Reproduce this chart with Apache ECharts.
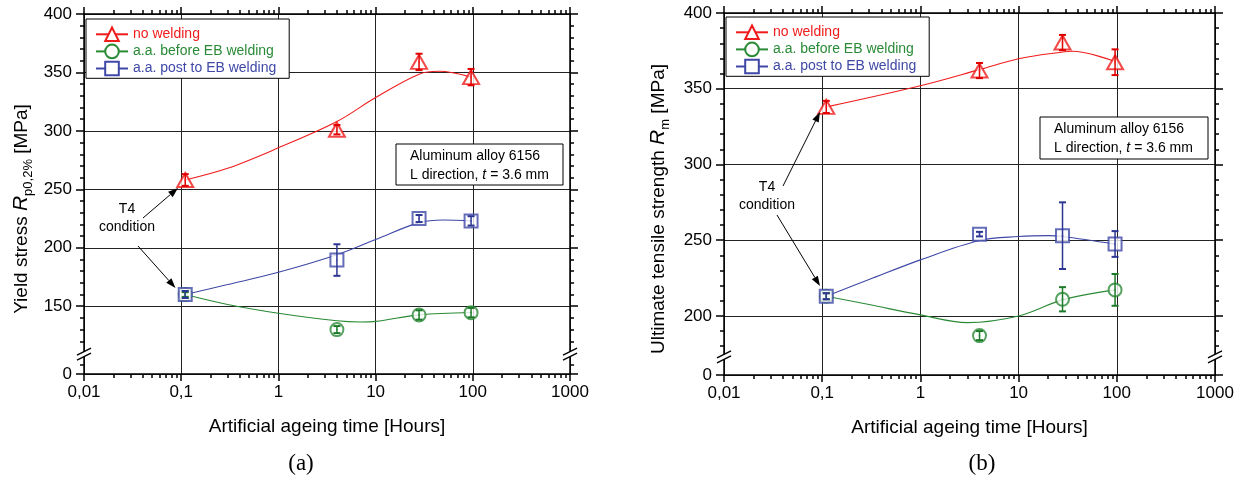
<!DOCTYPE html>
<html><head><meta charset="utf-8">
<script src="https://cdn.jsdelivr.net/npm/echarts@6/dist/echarts.min.js"></script>
<style>html,body{margin:0;padding:0;background:#fff}#c{width:1252px;height:482px}</style>
</head><body><div id="c"></div>
<script>
// ---------- data ----------
const hours = [0.11, 4, 28, 96];
const seriesNames = ['no welding', 'a.a. before EB welding', 'a.a. post to EB welding'];

// panel (a): yield stress Rp0.2 [MPa]
const yieldNoWeld = [258, 301, 359, 346];
const yieldNoWeldErr = [5, 4, 7, 7];
const yieldBefore = [160, 130, 142.5, 144.5];
const yieldBeforeErr = [2, 3, 4, 4];
const yieldPost = [160, 189.5, 225, 223];
const yieldPostErr = [3, 13.5, 3, 4];
// fitted curves of panel (a)
const fitYieldNoWeldX = [0.11, 0.3, 1, 4, 10, 28, 45, 96];
const fitYieldNoWeldY = [258, 268, 285.5, 308, 328.5, 348.5, 351, 346];
const fitYieldBeforeX = [0.11, 0.3, 1, 4, 7, 10, 28, 96];
const fitYieldBeforeY = [160, 151.5, 144, 137.5, 136.5, 137, 142.6, 144.6];
const fitYieldPostX = [0.11, 0.3, 1, 4, 10, 28, 50, 96];
const fitYieldPostY = [160, 168.5, 179, 194, 207, 221.5, 223.8, 223];

// panel (b): ultimate tensile strength Rm [MPa]
const utsNoWeld = [338, 362, 380.5, 367.5];
const utsNoWeldErr = [4, 5, 5, 8.5];
const utsBefore = [213, 187, 211, 217.2];
const utsBeforeErr = [2, 3, 8, 10.5];
const utsPost = [213, 254, 253, 247.5];
const utsPostErr = [2, 1.5, 22, 8.5];
const fitUtsNoWeldX = [0.11, 1, 4, 10, 28, 35, 96];
const fitUtsNoWeldY = [338, 352, 362.6, 369.8, 374.2, 374.7, 368];
const fitUtsBeforeX = [0.11, 0.3, 1, 3, 10, 28, 96];
const fitUtsBeforeY = [213, 207.5, 200.7, 195.6, 200, 210.6, 217.2];
const fitUtsPostX = [0.11, 0.3, 1, 4, 10, 20, 28, 96];
const fitUtsPostY = [213, 224, 237, 249.8, 252.4, 253, 252.4, 247.4];

// axes
const xTickVals = [0.01, 0.1, 1, 10, 100, 1000];
const xTickLabels = ['0,01', '0,1', '1', '10', '100', '1000'];
const yTickValsA = [92, 150, 200, 250, 300, 350, 400];   // 92 = broken-axis position of "0"
const yTickLabelsA = ['0', '150', '200', '250', '300', '350', '400'];
const yMinorA = [100, 120, 130, 140, 160, 170, 180, 190, 210, 220, 230, 240, 260, 270, 280, 290, 310, 320, 330, 340, 360, 370, 380, 390];
const breakA = 109;
const yTickValsB = [161, 200, 250, 300, 350, 400];       // 161 = broken-axis position of "0"
const yTickLabelsB = ['0', '200', '250', '300', '350', '400'];
const yMinorB = [180, 190, 210, 220, 230, 240, 260, 270, 280, 290, 310, 320, 330, 340, 360, 370, 380, 390];
const breakB = 173;

// ---------- style ----------
const FONT = '"Liberation Sans", Arial, Helvetica, sans-serif';
const colors = ['#f01c1c', '#2a8a36', '#3f48a6'];
const errColors = ['#e00000', '#1d7a29', '#2c3592'];
const symbols = ['emptyTriangle', 'emptyCircle', 'emptyRect'];
const symbolSizes = [[16, 14], 13, 13];

// minor x ticks (2..9 of each decade)
const xMinor = [];
for (let d = -2; d < 3; d++) for (let m = 2; m <= 9; m++) xMinor.push(+(m * Math.pow(10, d)).toPrecision(3));

const black = {color: '#000', width: 1.5};

function xAxes(gi) {
  return [
    {gridIndex: gi, type: 'log', logBase: 10, min: 0.01, max: 1000, position: 'bottom',
      axisLine: {onZero: false, lineStyle: black},
      axisTick: {customValues: xTickVals, length: 7, lineStyle: black},
      axisLabel: {customValues: xTickVals, fontSize: 17, fontFamily: FONT, color: '#000', margin: 10,
        formatter: v => { let i = xTickVals.findIndex(t => Math.abs(Math.log10(t) - Math.log10(v)) < 1e-6); return i < 0 ? '' : xTickLabels[i]; }},
      splitLine: {show: true, lineStyle: {color: '#222', width: 1}},
      name: 'Artificial ageing time [Hours]', nameLocation: 'middle', nameGap: 43,
      nameTextStyle: {fontSize: 19, fontFamily: FONT, color: '#000'}},
    {gridIndex: gi, type: 'log', logBase: 10, min: 0.01, max: 1000, position: 'bottom',
      axisLine: {show: false, onZero: false}, axisTick: {customValues: xMinor, length: 4, lineStyle: black},
      axisLabel: {show: false}, splitLine: {show: false}},
    {gridIndex: gi, type: 'log', logBase: 10, min: 0.01, max: 1000, position: 'top',
      axisLine: {show: true, onZero: false, lineStyle: black}, axisTick: {customValues: xTickVals, length: 7, lineStyle: black},
      axisLabel: {show: false}, splitLine: {show: false}},
    {gridIndex: gi, type: 'log', logBase: 10, min: 0.01, max: 1000, position: 'top',
      axisLine: {show: false, onZero: false}, axisTick: {customValues: xMinor, length: 4, lineStyle: black},
      axisLabel: {show: false}, splitLine: {show: false}}
  ];
}

function yAxes(gi, min, vals, labels, minor, name, nameGap) {
  const base = {gridIndex: gi, type: 'value', min: min, max: 400};
  return [
    Object.assign({}, base, {position: 'left',
      axisLine: {show: true, onZero: false, lineStyle: black},
      axisTick: {customValues: vals, length: 8, lineStyle: black},
      axisLabel: {customValues: vals, fontSize: 17, fontFamily: FONT, color: '#000', margin: 12,
        formatter: v => { let i = vals.findIndex(t => Math.abs(t - v) < 1e-6); return i < 0 ? '' : labels[i]; }},
      splitLine: {show: true, lineStyle: {color: '#222', width: 1}},
      name: name, nameLocation: 'middle', nameGap: nameGap,
      nameTextStyle: {fontSize: 19, fontFamily: FONT, color: '#000', padding: [0, 30, 0, 0],
        rich: {
          n: {fontSize: 19, fontFamily: FONT, color: '#000'},
          i: {fontSize: 21, fontFamily: FONT, fontStyle: 'italic', color: '#000'},
          s: {fontSize: 13, fontFamily: FONT, color: '#000', verticalAlign: 'bottom', padding: [0, 0, -3, 0]}
        }}}),
    Object.assign({}, base, {position: 'left', axisLine: {show: false, onZero: false},
      axisTick: {customValues: minor, length: 4, lineStyle: black}, axisLabel: {show: false}, splitLine: {show: false}}),
    Object.assign({}, base, {position: 'right', axisLine: {show: true, onZero: false, lineStyle: black},
      axisTick: {customValues: vals, length: 8, lineStyle: black}, axisLabel: {show: false}, splitLine: {show: false}}),
    Object.assign({}, base, {position: 'right', axisLine: {show: false, onZero: false},
      axisTick: {customValues: minor, length: 4, lineStyle: black}, axisLabel: {show: false}, splitLine: {show: false}})
  ];
}

function errRender(params, api) {
  const x = api.value(0), y = api.value(1), e = api.value(2);
  const c = api.visual('color');
  const t = api.coord([x, y + e]), b = api.coord([x, y - e]);
  const w = 3.5;
  return {type: 'group', children: [
    {type: 'line', shape: {x1: t[0], y1: t[1], x2: b[0], y2: b[1]}, style: {stroke: c, lineWidth: 1.5}},
    {type: 'line', shape: {x1: t[0] - w, y1: t[1], x2: t[0] + w, y2: t[1]}, style: {stroke: c, lineWidth: 2}},
    {type: 'line', shape: {x1: b[0] - w, y1: b[1], x2: b[0] + w, y2: b[1]}, style: {stroke: c, lineWidth: 2}}
  ]};
}

function breakRender(params, api) {
  const cs = params.coordSys;
  const y = api.coord([1, api.value(1)])[1];
  const kids = [];
  [cs.x, cs.x + cs.width].forEach(x0 => {
    kids.push({type: 'polygon', shape: {points: [[x0 - 7, y + 1], [x0 + 7, y - 6], [x0 + 7, y - 1], [x0 - 7, y + 6]]}, style: {fill: '#fff'}});
    kids.push({type: 'line', shape: {x1: x0 - 7, y1: y + 1, x2: x0 + 7, y2: y - 6}, style: {stroke: '#000', lineWidth: 1.5}});
    kids.push({type: 'line', shape: {x1: x0 - 7, y1: y + 6, x2: x0 + 7, y2: y - 1}, style: {stroke: '#000', lineWidth: 1.5}});
  });
  return {type: 'group', children: kids};
}

const zip = (a, b) => a.map((v, i) => [v, b[i]]);
const zip3 = (a, b, c) => a.map((v, i) => [v, b[i], c[i]]);

function panelSeries(xi, yi, pts, errs, fitsX, fitsY, brk) {
  const out = [];
  for (let k = 0; k < 3; k++) {
    out.push({type: 'line', name: seriesNames[k], xAxisIndex: xi, yAxisIndex: yi,
      data: zip(fitsX[k], fitsY[k]), smooth: 0.35, showSymbol: false,
      symbol: symbols[k], symbolSize: symbolSizes[k],
      itemStyle: {color: colors[k], borderWidth: 1.2}, lineStyle: {color: colors[k], width: 1.1}, z: 3, silent: true});
    out.push({type: 'scatter', name: seriesNames[k] + ' data', xAxisIndex: xi, yAxisIndex: yi,
      data: zip(hours, pts[k]), symbol: symbols[k], symbolSize: symbolSizes[k],
      itemStyle: {color: colors[k], borderColor: colors[k], borderWidth: 1.2}, z: 4, silent: true});
    out.push({type: 'custom', name: seriesNames[k] + ' err', xAxisIndex: xi, yAxisIndex: yi,
      data: zip3(hours, pts[k], errs[k]), renderItem: errRender, itemStyle: {color: errColors[k]}, z: 5, silent: true});
    out.push({type: 'scatter', name: seriesNames[k] + ' centre', xAxisIndex: xi, yAxisIndex: yi,
      data: zip(hours, pts[k]), symbol: 'circle', symbolSize: 1.8,
      itemStyle: {color: colors[k]}, z: 6, silent: true});
  }
  out.push({type: 'custom', name: 'break', xAxisIndex: xi, yAxisIndex: yi, data: [[1, brk]],
    renderItem: breakRender, z: 10, silent: true, clip: false});
  return out;
}

function legendCfg(left, top) {
  return {orient: 'vertical', left: left, top: top, selectedMode: false,
    data: seriesNames.map((n, k) => ({name: n, textStyle: {color: colors[k]}})),
    itemWidth: 32, itemHeight: 17, itemGap: 1.5, padding: [7.5, 13, 2, 9],
    borderColor: '#000', borderWidth: 1, backgroundColor: '#fff',
    textStyle: {fontSize: 14, fontFamily: FONT}, z: 20};
}

function arrow(x1, y1, x2, y2) {
  const a = Math.atan2(y2 - y1, x2 - x1), L = 10, W = 3.5;
  const bx = x2 - L * Math.cos(a), by = y2 - L * Math.sin(a);
  const px = -Math.sin(a) * W, py = Math.cos(a) * W;
  return [
    {type: 'line', shape: {x1: x1, y1: y1, x2: bx, y2: by}, style: {stroke: '#000', lineWidth: 1}, z: 30},
    {type: 'polygon', shape: {points: [[x2, y2], [bx + px, by + py], [bx - px, by - py]]}, style: {fill: '#000'}, z: 30}
  ];
}

function noteBox(x, y, w, h) {
  return [
    {type: 'rect', shape: {x: x, y: y, width: w, height: h}, style: {fill: '#fff', stroke: '#000', lineWidth: 1}, z: 25},
    {type: 'text', x: x + 14, y: y + 3, z: 26, style: {
      text: 'Aluminum alloy 6156\nL direction, {i|t} = 3.6 mm', fontSize: 14, fontFamily: FONT, fill: '#000', lineHeight: 18.5,
      rich: {i: {fontStyle: 'italic', fontSize: 14, fontFamily: FONT, fill: '#000'}}}}
  ];
}

const graphics = [].concat(
  noteBox(396, 144, 167, 41),
  noteBox(1040, 117, 168, 42),
  [{type: 'text', x: 127, y: 218, z: 30, style: {text: 'T4\ncondition', fontSize: 14, fontFamily: FONT, fill: '#000', align: 'center', verticalAlign: 'middle', lineHeight: 18}},
   {type: 'text', x: 767, y: 196, z: 30, style: {text: 'T4\ncondition', fontSize: 14, fontFamily: FONT, fill: '#000', align: 'center', verticalAlign: 'middle', lineHeight: 18}},
   {type: 'text', x: 301, y: 464, z: 30, style: {text: '(a)', fontSize: 23, fontFamily: '"Liberation Serif", "Times New Roman", serif', fill: '#000', align: 'center', verticalAlign: 'middle'}},
   {type: 'text', x: 982, y: 464, z: 30, style: {text: '(b)', fontSize: 23, fontFamily: '"Liberation Serif", "Times New Roman", serif', fill: '#000', align: 'center', verticalAlign: 'middle'}}],
  arrow(143, 218, 178, 188),
  arrow(138, 246, 175.5, 288),
  arrow(783, 186, 820, 112),
  arrow(777, 215, 820, 286)
);

const option = {
  backgroundColor: '#fff',
  animation: false,
  textStyle: {fontFamily: FONT},
  grid: [
    {left: 84, right: 682, top: 14, bottom: 108},
    {left: 724, right: 37, top: 13, bottom: 107}
  ],
  xAxis: xAxes(0).concat(xAxes(1)),
  yAxis: yAxes(0, 92, yTickValsA, yTickLabelsA, yMinorA, '{n|Yield stress }{i|R}{s|p0,2%}{n| [MPa]}', 52)
    .concat(yAxes(1, 161, yTickValsB, yTickLabelsB, yMinorB, '{n|Ultimate tensile strength }{i|R}{s|m}{n| [MPa]}', 55)),
  legend: [legendCfg(86, 19), legendCfg(726, 17)],
  series: panelSeries(0, 0,
      [yieldNoWeld, yieldBefore, yieldPost], [yieldNoWeldErr, yieldBeforeErr, yieldPostErr],
      [fitYieldNoWeldX, fitYieldBeforeX, fitYieldPostX], [fitYieldNoWeldY, fitYieldBeforeY, fitYieldPostY], breakA)
    .concat(panelSeries(4, 4,
      [utsNoWeld, utsBefore, utsPost], [utsNoWeldErr, utsBeforeErr, utsPostErr],
      [fitUtsNoWeldX, fitUtsBeforeX, fitUtsPostX], [fitUtsNoWeldY, fitUtsBeforeY, fitUtsPostY], breakB)),
  graphic: graphics
};

const chart = echarts.init(document.getElementById('c'), null, {renderer: 'canvas'});
chart.setOption(option);
</script>
</body></html>
